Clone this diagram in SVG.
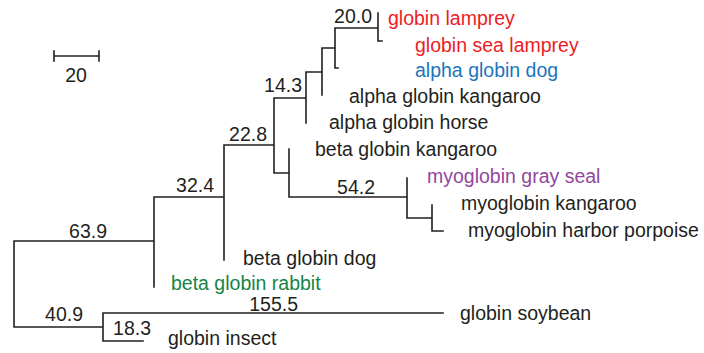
<svg xmlns="http://www.w3.org/2000/svg" width="704" height="353" viewBox="0 0 704 353">
<style>
text{font-family:"Liberation Sans",Arial,sans-serif;font-size:19.5px;fill:#231f20}
.br{fill:none;stroke:#231f20;stroke-width:1.6;stroke-linecap:square}
.red{fill:#ed1c24}.blue{fill:#1b75bc}.purple{fill:#92479d}.green{fill:#158446}
</style>
<rect width="704" height="353" fill="#fff"/>
<g id="connectors">
<path class="br" d="M14,241V327M14,241H154M14,327H103
M154,197V287M154,197H224
M224,145V260M224,145H274
M274,98V173M274,98H306M274,173H289
M289,149V197M289,197H407
M407,178V218M407,218H432
M432,205V231M432,231H443
M306,72V123M306,72H322
M322,48V95M322,48H335
M335,28V68M335,68H338M335,28H378
M378,13V41M378,41H382
M103,313V341M103,313H443M103,341H143"/>
</g>
<g id="branch-lengths">
<text x="372" y="23" text-anchor="end">20.0</text>
<text x="302" y="92" text-anchor="end">14.3</text>
<text x="267" y="141" text-anchor="end">22.8</text>
<text x="214" y="192" text-anchor="end">32.4</text>
<text x="375" y="194" text-anchor="end">54.2</text>
<text x="107" y="238" text-anchor="end">63.9</text>
<text x="83" y="321" text-anchor="end">40.9</text>
<text x="151" y="335" text-anchor="end">18.3</text>
<text x="298" y="311" text-anchor="end">155.5</text>
</g>
<g id="scale-bar">
<path class="br" d="M54,56H99M54,51V61M99,51V61"/>
<text x="76" y="82" text-anchor="middle">20</text>
</g>
<g id="globin-lamprey"><text class="red" x="388" y="25">globin lamprey</text></g>
<g id="globin-sea-lamprey"><text class="red" x="415" y="52">globin sea lamprey</text></g>
<g id="alpha-globin-dog"><text class="blue" x="415" y="77">alpha globin dog</text></g>
<g id="alpha-globin-kangaroo"><text x="349" y="103">alpha globin kangaroo</text></g>
<g id="alpha-globin-horse"><text x="329" y="129">alpha globin horse</text></g>
<g id="beta-globin-kangaroo"><text x="315" y="156">beta globin kangaroo</text></g>
<g id="myoglobin-gray-seal"><text class="purple" x="427" y="183">myoglobin gray seal</text></g>
<g id="myoglobin-kangaroo"><text x="461" y="210">myoglobin kangaroo</text></g>
<g id="myoglobin-harbor-porpoise"><text x="468" y="237">myoglobin harbor porpoise</text></g>
<g id="beta-globin-dog"><text x="243" y="265">beta globin dog</text></g>
<g id="beta-globin-rabbit"><text class="green" x="171" y="290">beta globin rabbit</text></g>
<g id="globin-soybean"><text x="460" y="320">globin soybean</text></g>
<g id="globin-insect"><text x="168" y="345">globin insect</text></g>
</svg>
